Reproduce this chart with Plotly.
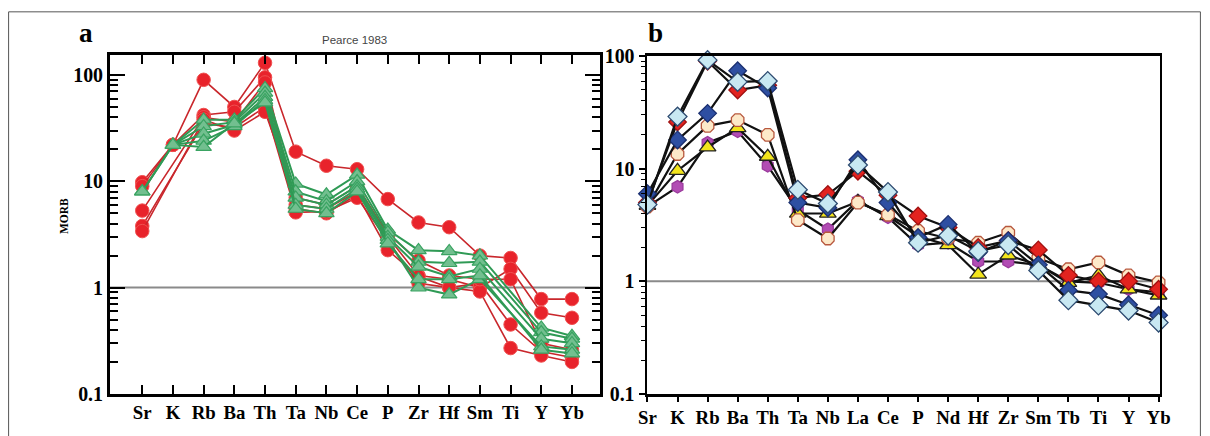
import plotly.graph_objects as go

# ---------------- data ----------------
A_ELEMENTS = ["Sr", "K", "Rb", "Ba", "Th", "Ta", "Nb", "Ce", "P", "Zr", "Hf", "Sm", "Ti", "Y", "Yb"]

red_1 = [9.8, 22, 90, 50, 130, 19, 14, 13, 6.8, 4.1, 3.7, 2.0, 1.9, 0.78, 0.78]
red_2 = [9.0, 22, 42, 45, 95, 6.0, 5.5, 8.0, 3.0, 1.3, 1.2, 1.0, 1.5, 0.58, 0.52]
red_3 = [5.3, None, 40, 36, 85, 5.5, 5.0, 7.5, 2.25, 1.27, 1.0, 1.1, 0.45, 0.25, 0.22]
red_4 = [3.8, None, 35, 32, 50, 5.1, 5.2, 7.0, 2.8, 1.1, 1.0, 0.92, 0.27, 0.23, 0.20]
red_5 = [3.4, None, 38, 30, 45, 7.0, 6.0, 9.0, 3.2, 1.8, 1.3, 1.2, 1.2, 0.30, 0.26]
RED_SERIES = [red_1, red_2, red_3, red_4, red_5]

green_1 = [8.0, 22, 38, 38, 75, 9.5, 7.5, 11.5, 3.5, 2.25, 2.2, 2.0, None, 0.42, 0.35]
green_2 = [8.0, 22, 33, 36, 68, 8.0, 6.5, 10.0, 3.3, 1.75, 1.7, 1.75, None, 0.38, 0.33]
green_3 = [None, 22, 28, 34, 62, 7.0, 6.0, 9.0, 3.0, 1.57, 1.27, 1.5, None, 0.33, 0.30]
green_4 = [None, 22, 24, 33, 58, 6.0, 5.5, 8.5, 2.8, 1.0, 0.86, 1.2, None, 0.28, 0.26]
green_5 = [None, 22, 21, 35, 55, 5.5, 5.0, 8.0, 2.6, 1.2, 1.2, 1.3, None, 0.26, 0.24]
GREEN_SERIES = [green_1, green_2, green_3, green_4, green_5]

B_ELEMENTS = ["Sr", "K", "Rb", "Ba", "Th", "Ta", "Nb", "La", "Ce", "P", "Nd", "Hf", "Zr", "Sm", "Tb", "Ti", "Y", "Yb"]

purple = [4.6, 6.9, 17, 21.5, 10.6, 4.3, 2.9, 5.2, 3.7, 2.1, 2.2, 1.5, 1.5, 1.4, 1.0, 0.97, 0.85, 0.8]
yellow = [4.7, 9.6, 15.5, 23, 12.8, 4.0, 4.0, 5.1, 3.8, 2.5, 2.1, 1.15, 1.7, 1.4, 0.97, 1.13, 0.85, 0.75]
peach = [4.6, 13.5, 24, 27, 20, 3.5, 2.4, 5.0, 3.9, 2.8, 2.4, 2.2, 2.7, 1.6, 1.28, 1.47, 1.13, 0.98]
red_diamond = [5.0, 26, 90, 50, 55, 5.5, 5.9, 9.5, 5.8, 3.8, 3.0, 2.0, 2.3, 1.9, 1.13, 1.0, 1.0, 0.85]
dark_blue = [6.0, 18, 31, 74, 52, 5.0, 4.5, 12, 5.0, 2.45, 3.2, 1.8, 2.3, 1.4, 0.83, 0.77, 0.62, 0.5]
light_blue = [4.8, 29, 92, 59, 60, 6.5, 4.9, 10.8, 6.2, 2.2, 2.55, 1.85, 2.1, 1.25, 0.68, 0.61, 0.55, 0.43]

A_YTICKS = [0.1, 1, 10, 100]
B_YTICKS = [0.1, 1, 10, 100]

# ---------------- page geometry ----------------
# Measured from earlier renders: the page keeps an 8px body margin and the
# photographed page comes out scaled by about KX, KY; positions below are
# given in target-picture pixels and converted back to figure pixels.
OFF = 8
KX, KY = 0.986, 0.956
W = round(1210 / KX) - 2 * OFF
H = round(436 / KY) - 2 * OFF


def px_x(p):
    return (p / KX - OFF) / W


def px_y(p):
    return 1 - (p / KY - OFF) / H


def fs(v):
    return round(v / KY, 1)


fig = go.Figure()

ax_idx = list(range(len(A_ELEMENTS)))
bx_idx = list(range(len(B_ELEMENTS)))

A_XRANGE = [-1.05, 14.9]
B_XRANGE = [-0.03, 17.05]

fig.add_trace(go.Scatter(x=A_XRANGE, y=[1, 1], mode="lines",
                         line=dict(color="#8a8a8a", width=2), xaxis="x", yaxis="y",
                         showlegend=False, hoverinfo="skip"))
fig.add_trace(go.Scatter(x=B_XRANGE, y=[1, 1], mode="lines",
                         line=dict(color="#8a8a8a", width=2), xaxis="x2", yaxis="y2",
                         showlegend=False, hoverinfo="skip"))

for s in RED_SERIES:
    fig.add_trace(go.Scatter(
        x=ax_idx, y=s, mode="lines+markers", connectgaps=True,
        line=dict(color="#c9272c", width=1.6),
        marker=dict(symbol="circle", size=13.5, color="#e8232b",
                    line=dict(color="#f05050", width=1)),
        xaxis="x", yaxis="y", showlegend=False, cliponaxis=False))

for s in GREEN_SERIES:
    fig.add_trace(go.Scatter(
        x=ax_idx, y=s, mode="lines+markers", connectgaps=True,
        line=dict(color="#2f9a55", width=2),
        marker=dict(symbol="triangle-up", size=13.5, color="#72bf8f",
                    line=dict(color="#3aa362", width=1.2)),
        xaxis="x", yaxis="y", showlegend=False))

B_STYLES = [
    (purple, "hexagon", "#b24cb4", "#9a3a9c", 12.5),
    (yellow, "triangle-up", "#f2e41c", "#222222", 14.5),
    (peach, "octagon", "#fde9c9", "#b8583e", 13.5),
    (red_diamond, "diamond", "#e2231f", "#a01010", 13.5),
    (dark_blue, "diamond", "#2e4fa2", "#1a2f70", 13.5),
    (light_blue, "diamond", "#c8e8f2", "#2c4a70", 14.5),
]
for s, sym, fc, lc, sz in B_STYLES:
    fig.add_trace(go.Scatter(
        x=bx_idx, y=s, mode="lines+markers",
        line=dict(color="#111111", width=2.2),
        marker=dict(symbol=sym, size=sz, color=fc, line=dict(color=lc, width=1.3)),
        xaxis="x2", yaxis="y2", showlegend=False, cliponaxis=False))

serif = "Liberation Serif, Times New Roman, serif"
minor_vals = [m * 10 ** e for e in (-1, 0, 1, 2) for m in range(2, 10)]


def bold(t):
    return "<b>%s</b>" % t


fig.update_layout(
    width=W, height=H, autosize=False,
    margin=dict(l=0, r=0, t=0, b=0, pad=0),
    paper_bgcolor="white", plot_bgcolor="white",
    xaxis=dict(
        domain=[px_x(110), px_x(600)], range=A_XRANGE, anchor="y",
        tickmode="array", tickvals=ax_idx, ticktext=[bold(e) for e in A_ELEMENTS],
        ticks="inside", ticklen=9, tickwidth=2, tickcolor="black",
        showline=True, linewidth=3, linecolor="black", mirror="allticks",
        showgrid=False, zeroline=False,
        tickfont=dict(family=serif, size=fs(18), color="black")),
    yaxis=dict(
        domain=[px_y(393), px_y(52)], type="log", range=[-1, 2.187], anchor="x",
        tickmode="array", tickvals=A_YTICKS, ticktext=[bold(str(v)) for v in A_YTICKS],
        ticks="inside", ticklen=15, tickwidth=2, tickcolor="black",
        minor=dict(tickmode="array", tickvals=minor_vals, ticks="inside", ticklen=8,
                   tickwidth=2, tickcolor="black", showgrid=False),
        showline=True, linewidth=3, linecolor="black", mirror="allticks",
        showgrid=False, zeroline=False,
        tickfont=dict(family=serif, size=fs(19), color="black")),
    xaxis2=dict(
        domain=[px_x(647), px_x(1161)], range=B_XRANGE, anchor="y2",
        tickmode="array", tickvals=bx_idx, ticktext=[bold(e) for e in B_ELEMENTS],
        ticks="outside", ticklen=5, tickwidth=2, tickcolor="black",
        showline=True, linewidth=3, linecolor="black", mirror=True,
        showgrid=False, zeroline=False,
        tickfont=dict(family=serif, size=fs(18), color="black")),
    yaxis2=dict(
        domain=[px_y(393), px_y(53)], type="log", range=[-1, 2], anchor="x2",
        tickmode="array", tickvals=B_YTICKS, ticktext=[bold(str(v)) for v in B_YTICKS],
        ticks="outside", ticklen=6, tickwidth=2, tickcolor="black",
        minor=dict(tickmode="array", tickvals=minor_vals, ticks="outside", ticklen=4,
                   tickwidth=1, tickcolor="black", showgrid=False),
        showline=True, linewidth=2, linecolor="black", mirror=True,
        showgrid=False, zeroline=False,
        tickfont=dict(family=serif, size=fs(19), color="black")),
    annotations=[
        dict(text="<b>a</b>", x=px_x(86), y=px_y(30), xref="paper", yref="paper",
             xanchor="center", yanchor="middle",
             showarrow=False, font=dict(family=serif, size=fs(26), color="black")),
        dict(text="<b>b</b>", x=px_x(656), y=px_y(30), xref="paper", yref="paper",
             xanchor="center", yanchor="middle",
             showarrow=False, font=dict(family=serif, size=fs(26), color="black")),
        dict(text="Pearce 1983", x=px_x(355), y=px_y(37), xref="paper", yref="paper",
             xanchor="center", yanchor="middle",
             showarrow=False, font=dict(family="Liberation Sans, Arial, sans-serif",
                                        size=fs(11), color="#444444")),
        dict(text="<b>MORB</b>", x=px_x(64), y=px_y(214), xref="paper", yref="paper",
             xanchor="center", yanchor="middle",
             textangle=-90, showarrow=False,
             font=dict(family=serif, size=fs(11), color="black")),
    ],
    shapes=[
        dict(type="rect", xref="paper", yref="paper",
             x0=0.0005, x1=0.9995, y0=-0.05, y1=0.998,
             line=dict(color="#555555", width=1), fillcolor="rgba(0,0,0,0)"),
    ],
)

fig.write_html("out.html")
